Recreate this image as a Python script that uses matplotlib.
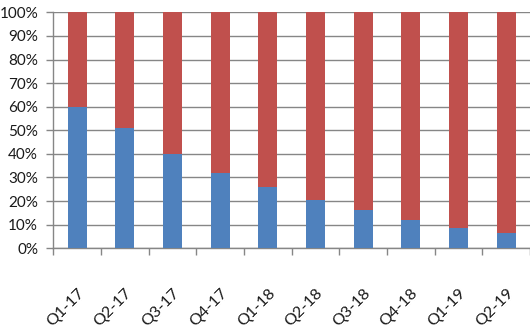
import matplotlib
matplotlib.use("Agg")
import matplotlib.pyplot as plt
import numpy as np
from matplotlib.ticker import PercentFormatter, FixedLocator

categories = ["Q1-17", "Q2-17", "Q3-17", "Q4-17", "Q1-18", "Q2-18", "Q3-18", "Q4-18", "Q1-19", "Q2-19"]
blue_share = [60.0, 50.8, 40.0, 31.8, 26.0, 20.5, 16.0, 12.0, 8.6, 6.4]
red_share = [100 - v for v in blue_share]

plt.rcParams['font.family'] = ['Lato', 'DejaVu Sans']

fig = plt.figure(figsize=(5.30, 3.34), dpi=100)
ax = fig.add_axes([0.1006, 0.257, 0.8994, 0.706])

x = np.arange(len(categories))
blue_c = "#4F81BD"
red_c = "#C0504D"
ax.bar(x, blue_share, width=0.4, color=blue_c, zorder=3)
ax.bar(x, red_share, width=0.4, bottom=blue_share, color=red_c, zorder=3)

ax.set_xlim(-0.5, len(categories) - 0.5)
ax.set_ylim(0, 100)
ax.set_yticks(np.arange(0, 101, 10))
ax.yaxis.set_major_formatter(PercentFormatter(decimals=0))
grid_c = "#868686"
ax.yaxis.grid(True, color=grid_c, linewidth=1.0, zorder=0)
ax.set_axisbelow(True)

ax.set_xticks(x)
ax.set_xticklabels(categories, rotation=45, ha='right', va='top', rotation_mode='anchor')
ax.xaxis.set_minor_locator(FixedLocator(np.arange(-0.5, len(categories), 1.0)))
ax.tick_params(axis='x', which='major', length=0, pad=27, labelsize=11.5, labelcolor="#1a1a1a")
ax.tick_params(axis='x', which='minor', length=5, color=grid_c, width=1.0)
ax.tick_params(axis='y', which='major', length=5, color=grid_c, width=1.0, labelsize=11, labelcolor="#1a1a1a", pad=6)

for s in ['top', 'right']:
    ax.spines[s].set_visible(False)
for s in ['left', 'bottom']:
    ax.spines[s].set_color(grid_c)
    ax.spines[s].set_linewidth(1.0)

fig.savefig("out.png", dpi=100, facecolor="white")
